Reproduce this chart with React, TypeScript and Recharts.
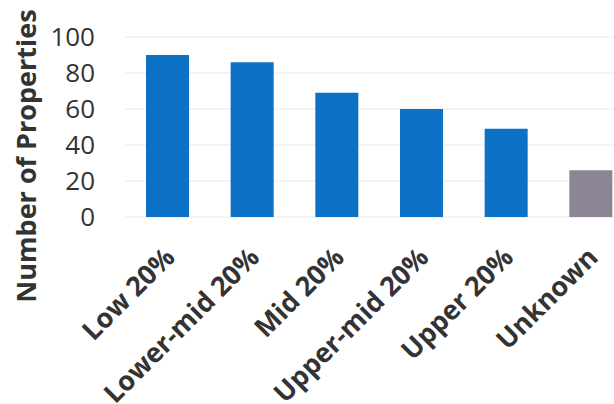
import { BarChart, Bar, XAxis, YAxis, CartesianGrid, Cell } from 'recharts';

const categories = ['Low 20%', 'Lower-mid 20%', 'Mid 20%', 'Upper-mid 20%', 'Upper 20%', 'Unknown'];
const counts = [90, 86, 69, 60, 49, 26];
const barColors = ['#0b72c6', '#0b72c6', '#0b72c6', '#0b72c6', '#0b72c6', '#8c8594'];
const yTicks = [0, 20, 40, 60, 80, 100];

const data = categories.map((name, i) => ({ name, count: counts[i] }));

const FONT = '"Open Sans", sans-serif';

const AngledTick = ({ x, y, payload }: any) => (
  <g transform={`translate(${x + 9},${y + 42})`}>
    <text
      textAnchor="end"
      transform="rotate(-45)"
      fill="#333"
      fontSize={27}
      fontWeight={700}
      fontFamily={FONT}
    >
      {payload.value}
    </text>
  </g>
);

const YLabel = () => (
  <text
    x={25}
    y={156}
    transform="rotate(-90, 25, 156)"
    textAnchor="middle"
    dominantBaseline="central"
    fill="#333"
    fontSize={27}
    fontWeight={700}
    fontFamily={FONT}
  >
    Number of Properties
  </text>
);

export default function App() {
  return (
    <div
      style={{
        position: 'fixed',
        left: 0,
        top: 0,
        width: 614,
        height: 404,
        overflow: 'hidden',
        background: '#fff',
      }}
    >
      <BarChart width={640} height={404} data={data} margin={{ top: 37, right: 7, left: 0, bottom: 37 }}>
        <CartesianGrid vertical={false} stroke="#e8e8e8" />
        <XAxis
          dataKey="name"
          axisLine={false}
          tickLine={false}
          tickSize={0}
          tickMargin={0}
          height={150}
          interval={0}
          tick={<AngledTick />}
        />
        <YAxis
          domain={[0, 100]}
          ticks={yTicks}
          width={125}
          axisLine={false}
          tickLine={false}
          tickSize={0}
          tickMargin={30}
          tick={{ fill: '#333', fontSize: 26, fontFamily: FONT }}
          label={<YLabel />}
        />
        <Bar dataKey="count" barSize={43} isAnimationActive={false}>
          {data.map((d, i) => (
            <Cell key={d.name} fill={barColors[i]} />
          ))}
        </Bar>
      </BarChart>
    </div>
  );
}
